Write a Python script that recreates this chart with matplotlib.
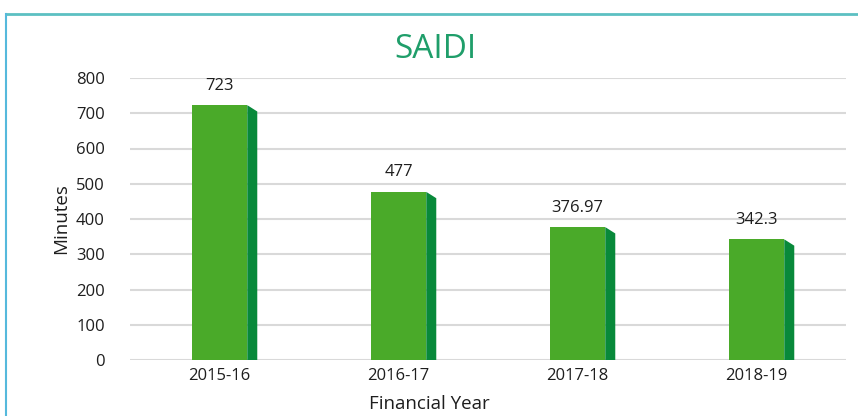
#!/usr/bin/env python3
"""SAIDI bar chart with a pseudo-3D side face."""

import matplotlib

matplotlib.use("Agg")
import matplotlib.pyplot as plt
from matplotlib.lines import Line2D
from matplotlib.patches import Polygon

years = ["2015-16", "2016-17", "2017-18", "2018-19"]
saidi = [723, 477, 376.97, 342.3]
labels = ["723", "477", "376.97", "342.3"]

FRONT = "#4aaa29"
SIDE = "#08893a"
GRID = "#d9d9d9"
TEXT = "#1e1e1e"

plt.rcParams["font.family"] = ["Open Sans", "DejaVu Sans"]

fig = plt.figure(figsize=(8.58, 4.16), dpi=100)
ax = fig.add_axes([130 / 858, 56 / 416, 716 / 858, 282 / 416])

bar_w = 0.31
depth = 0.056
slant = 18

x = list(range(len(years)))
ax.bar(x, saidi, width=bar_w, color=FRONT, zorder=3)
for xi, v, lab in zip(x, saidi, labels):
    right = xi + bar_w / 2
    side = Polygon(
        [(right, 0), (right, v), (right + depth, v - slant), (right + depth, 0)],
        closed=True, facecolor=SIDE, edgecolor="none", zorder=3,
    )
    ax.add_patch(side)
    ax.text(xi, v + 55, lab, ha="center", va="center", fontsize=12, color=TEXT)

ax.set_xlim(-0.5, 3.5)
ax.set_ylim(0, 800)
ax.set_yticks(range(0, 801, 100))
ax.set_xticks(x)
ax.set_xticklabels(years)
ax.yaxis.grid(True, color=GRID, linewidth=1.5, zorder=0)
ax.set_axisbelow(True)
for s in ax.spines.values():
    s.set_visible(False)
ax.tick_params(length=0, labelsize=12, colors=TEXT, pad=6)
ax.tick_params(axis="y", pad=18)
ax.set_ylabel("Minutes", fontsize=13.5, color=TEXT, labelpad=4)

fig.text(429 / 858, 1 - 404 / 416, "Financial Year", ha="center", va="center",
         fontsize=13.5, color=TEXT)
fig.text(435 / 858, 1 - 49 / 416, "SAIDI", ha="center", va="center",
         fontsize=24, color="#1f9e6a")

# frame of the pasted chart (top and left edges visible)
fig.add_artist(Line2D([6 / 858, 1], [1 - 14 / 416, 1 - 14 / 416],
                      color="#5cc0c2", linewidth=2, transform=fig.transFigure))
fig.add_artist(Line2D([6 / 858, 6 / 858], [0, 1 - 14 / 416],
                      color="#55b9dc", linewidth=1.5, transform=fig.transFigure))

fig.savefig("out.png", dpi=100)
